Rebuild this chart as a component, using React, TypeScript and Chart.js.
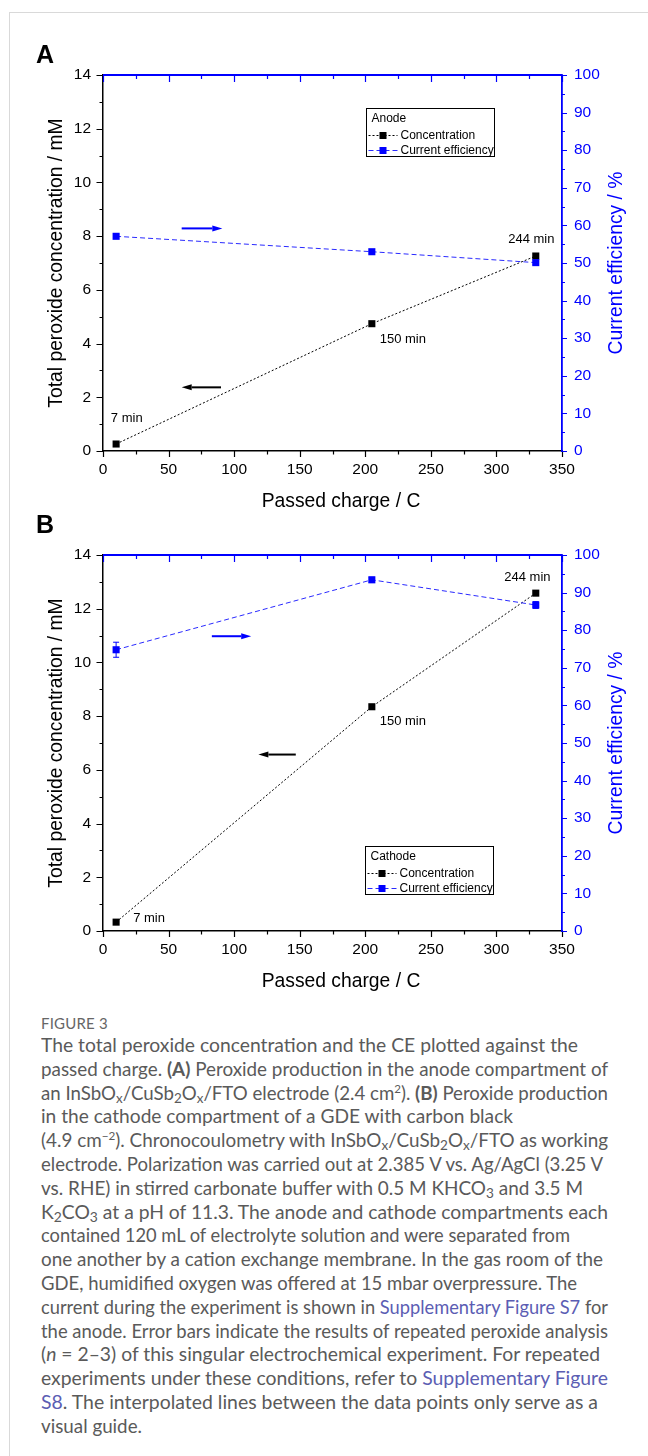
import React, { useEffect, useLayoutEffect, useRef } from "react";
import { Chart, registerables } from "chart.js";

Chart.register(...registerables);

// ---------- data ----------
const chargeC = [10, 205, 330];

const concA = [0.26, 4.74, 7.26];
const ceA = [57.1, 53.0, 50.1];
const ceErrA = [0.4, 0.4, 0.5];

const concB = [0.33, 8.35, 12.58];
const ceB = [74.8, 93.4, 86.7];
const ceErrB = [2.0, 0.7, 0.9];

// tick values
const xTicks = [0, 50, 100, 150, 200, 250, 300, 350];
const xMinor = [25, 75, 125, 175, 225, 275, 325];
const concTicks = [0, 2, 4, 6, 8, 10, 12, 14];
const concMinor = [1, 3, 5, 7, 9, 11, 13];
const ceTicks = [0, 10, 20, 30, 40, 50, 60, 70, 80, 90, 100];
const ceMinor = [5, 15, 25, 35, 45, 55, 65, 75, 85, 95];

// axis titles
const xTitle = "Passed charge / C";
const concTitle = "Total peroxide concentration / mM";
const ceTitle = "Current efficiency / %";

// time annotations (data coords: x = charge, y = concentration)
const timeLabels = ["7 min", "150 min", "244 min"];
const timeLabelXA = [6, 211, 309];
const timeLabelYA = [1.2, 4.15, 7.87];
const timeLabelXB = [23, 211, 306];
const timeLabelYB = [0.47, 7.82, 13.15];

// arrows (data coords)
const arrowCeA = [60, 91, 59.2]; // xFrom, xTo, CE
const arrowConcA = [90, 60, 2.37]; // xFrom, xTo, conc
const arrowCeB = [83, 113, 78.4];
const arrowConcB = [147, 118.5, 6.57];

// ---------- styles ----------
const BLUE = "#0000ff";
const FONT = "'Liberation Sans', Arial, Helvetica, sans-serif";
const TITLE_SIZE = 19.3;

type PanelCfg = {
  letter: string;
  letterY: number;
  legendTitle: string;
  legendX: number;
  legendTopOffset: number;
  conc: number[];
  ce: number[];
  ceErr: number[];
  tlX: number[];
  tlY: number[];
  arrowCe: number[];
  arrowConc: number[];
};

function drawArrow(ctx: CanvasRenderingContext2D, x0: number, y: number, x1: number, color: string) {
  const dir = Math.sign(x1 - x0);
  const headLen = 10;
  const headW = 3;
  ctx.save();
  ctx.strokeStyle = color;
  ctx.fillStyle = color;
  ctx.lineWidth = 2;
  ctx.setLineDash([]);
  ctx.beginPath();
  ctx.moveTo(x0, y);
  ctx.lineTo(x1 - dir * headLen, y);
  ctx.stroke();
  ctx.beginPath();
  ctx.moveTo(x1, y);
  ctx.lineTo(x1 - dir * headLen, y - headW);
  ctx.lineTo(x1 - dir * headLen, y + headW);
  ctx.closePath();
  ctx.fill();
  ctx.restore();
}

function makeDecor(cfg: PanelCfg) {
  return {
    id: "decor",
    beforeDatasetsDraw(chart: any) {
      const { ctx, scales } = chart;
      const x = scales.x;
      const y1 = scales.y1;
      ctx.save();
      ctx.strokeStyle = BLUE;
      ctx.lineWidth = 1;
      chargeC.forEach((c, i) => {
        const px = x.getPixelForValue(c);
        const top = y1.getPixelForValue(cfg.ce[i] + cfg.ceErr[i]);
        const bot = y1.getPixelForValue(cfg.ce[i] - cfg.ceErr[i]);
        ctx.beginPath();
        ctx.moveTo(px, top);
        ctx.lineTo(px, bot);
        ctx.moveTo(px - 3, top);
        ctx.lineTo(px + 3, top);
        ctx.moveTo(px - 3, bot);
        ctx.lineTo(px + 3, bot);
        ctx.stroke();
      });
      ctx.restore();
    },
    afterDraw(chart: any) {
      const { ctx, chartArea: a, scales } = chart;
      const x = scales.x;
      const y = scales.y;
      const y1 = scales.y1;
      ctx.save();
      ctx.setLineDash([]);
      ctx.lineWidth = 1.2;
      // bottom ticks (outward)
      ctx.strokeStyle = "#000";
      ctx.beginPath();
      xTicks.forEach((v) => {
        const p = Math.round(x.getPixelForValue(v)) + 0.5;
        ctx.moveTo(p, a.bottom);
        ctx.lineTo(p, a.bottom + 6);
      });
      xMinor.forEach((v) => {
        const p = Math.round(x.getPixelForValue(v)) + 0.5;
        ctx.moveTo(p, a.bottom);
        ctx.lineTo(p, a.bottom + 3.5);
      });
      // left ticks (outward)
      concTicks.forEach((v) => {
        const p = Math.round(y.getPixelForValue(v)) + 0.5;
        ctx.moveTo(a.left - 6.5, p);
        ctx.lineTo(a.left, p);
      });
      concMinor.forEach((v) => {
        const p = Math.round(y.getPixelForValue(v)) + 0.5;
        ctx.moveTo(a.left - 3.5, p);
        ctx.lineTo(a.left, p);
      });
      ctx.stroke();
      // top axis + inward ticks (blue)
      ctx.strokeStyle = BLUE;
      ctx.lineWidth = 1.8;
      ctx.beginPath();
      ctx.moveTo(a.left, a.top);
      ctx.lineTo(a.right, a.top);
      ctx.stroke();
      ctx.lineWidth = 1.2;
      ctx.beginPath();
      xTicks.forEach((v) => {
        const p = Math.round(x.getPixelForValue(v)) + 0.5;
        ctx.moveTo(p, a.top);
        ctx.lineTo(p, a.top + 7);
      });
      xMinor.forEach((v) => {
        const p = Math.round(x.getPixelForValue(v)) + 0.5;
        ctx.moveTo(p, a.top);
        ctx.lineTo(p, a.top + 4);
      });
      // right ticks (outward, blue)
      ceTicks.forEach((v) => {
        const p = Math.round(y1.getPixelForValue(v)) + 0.5;
        ctx.moveTo(a.right, p);
        ctx.lineTo(a.right + 5, p);
      });
      ceMinor.forEach((v) => {
        const p = Math.round(y1.getPixelForValue(v)) + 0.5;
        ctx.moveTo(a.right, p);
        ctx.lineTo(a.right + 3, p);
      });
      ctx.stroke();

      // bottom axis title
      ctx.fillStyle = "#000";
      ctx.font = `${TITLE_SIZE}px ${FONT}`;
      ctx.textAlign = "center";
      ctx.textBaseline = "middle";
      ctx.fillText(xTitle, (a.left + a.right) / 2 + 8.5, a.bottom + 51);

      // right axis title (reads bottom-to-top)
      ctx.save();
      ctx.translate(617, (a.top + a.bottom) / 2);
      ctx.rotate(-Math.PI / 2);
      ctx.fillStyle = BLUE;
      ctx.font = `${TITLE_SIZE}px ${FONT}`;
      ctx.textAlign = "center";
      ctx.textBaseline = "middle";
      ctx.fillText(ceTitle, 0, 0);
      ctx.restore();

      // time annotations
      ctx.fillStyle = "#000";
      ctx.font = `13px ${FONT}`;
      ctx.textAlign = "left";
      ctx.textBaseline = "middle";
      timeLabels.forEach((t, i) => {
        ctx.fillText(t, x.getPixelForValue(cfg.tlX[i]), y.getPixelForValue(cfg.tlY[i]));
      });

      // arrows
      drawArrow(ctx, x.getPixelForValue(cfg.arrowCe[0]), y1.getPixelForValue(cfg.arrowCe[2]), x.getPixelForValue(cfg.arrowCe[1]), BLUE);
      drawArrow(ctx, x.getPixelForValue(cfg.arrowConc[0]), y.getPixelForValue(cfg.arrowConc[2]), x.getPixelForValue(cfg.arrowConc[1]), "#000");

      // legend
      const bx = cfg.legendX + 0.5;
      const by = a.top + cfg.legendTopOffset + 0.5;
      const bw = 128;
      const bh = 48;
      ctx.fillStyle = "#fff";
      ctx.fillRect(bx, by, bw, bh);
      ctx.strokeStyle = "#000";
      ctx.lineWidth = 1;
      ctx.strokeRect(bx, by, bw, bh);
      ctx.fillStyle = "#000";
      ctx.font = `12px ${FONT}`;
      ctx.fillText(cfg.legendTitle, bx + 5, by + 10);
      const entries = [chart.data.datasets[0], chart.data.datasets[1]];
      entries.forEach((ds: any, i: number) => {
        const ey = Math.round(by + 26 + i * 15) + 0.5;
        ctx.strokeStyle = ds.borderColor;
        ctx.lineWidth = 1;
        ctx.setLineDash(ds.borderDash);
        ctx.beginPath();
        ctx.moveTo(bx + 2, ey);
        ctx.lineTo(bx + 31, ey);
        ctx.stroke();
        ctx.setLineDash([]);
        ctx.fillStyle = ds.pointBackgroundColor;
        ctx.fillRect(bx + 13, ey - 3.5, 7, 7);
        ctx.fillStyle = "#000";
        ctx.fillText(ds.label, bx + 34, ey);
      });

      // panel letter
      ctx.fillStyle = "#000";
      ctx.font = `bold 25px ${FONT}`;
      ctx.textBaseline = "alphabetic";
      ctx.fillText(cfg.letter, 36, cfg.letterY);
      ctx.restore();
    },
  };
}

function Panel({ cfg }: { cfg: PanelCfg }) {
  const ref = useRef<HTMLCanvasElement | null>(null);
  useEffect(() => {
    if (!ref.current) return;
    const tickFont = { family: FONT, size: 15.5 };
    const titleFont = { family: FONT, size: TITLE_SIZE };
    const chart = new Chart(ref.current, {
      type: "line",
      data: {
        datasets: [
          {
            label: "Concentration",
            data: chargeC.map((c, i) => ({ x: c, y: cfg.conc[i] })),
            yAxisID: "y",
            borderColor: "#000",
            borderWidth: 1,
            borderDash: [2, 2],
            pointStyle: "rect",
            pointRadius: 5,
            pointBackgroundColor: "#000",
            pointBorderColor: "#000",
            pointBorderWidth: 0,
            fill: false,
            order: 1,
          },
          {
            label: "Current efficiency",
            data: chargeC.map((c, i) => ({ x: c, y: cfg.ce[i] })),
            yAxisID: "y1",
            borderColor: "#2a2aff",
            borderWidth: 1,
            borderDash: [5, 3],
            pointStyle: "rect",
            pointRadius: 5,
            pointBackgroundColor: BLUE,
            pointBorderColor: BLUE,
            pointBorderWidth: 0,
            fill: false,
            order: 0,
          },
        ],
      },
      options: {
        responsive: false,
        maintainAspectRatio: false,
        animation: false,
        layout: { padding: { top: 55, left: 0, right: 0, bottom: 0 } },
        plugins: { legend: { display: false }, tooltip: { enabled: false } },
        scales: {
          x: {
            type: "linear",
            position: "bottom",
            min: 0,
            max: 350,
            afterBuildTicks: (s: any) => {
              s.ticks = xTicks.map((v) => ({ value: v }));
            },
            ticks: { font: tickFont, color: "#000", padding: 9, maxRotation: 0, autoSkip: false },
            grid: { display: false, drawTicks: false },
            border: { display: true, color: "#000", width: 1.5 },
            title: { display: false },
            afterFit: (s: any) => {
              s.height = 62;
            },
          },
          y: {
            type: "linear",
            position: "left",
            min: 0,
            max: 14,
            afterBuildTicks: (s: any) => {
              s.ticks = concTicks.map((v) => ({ value: v }));
            },
            ticks: { font: tickFont, color: "#000", padding: 12, autoSkip: false },
            grid: { display: false, drawTicks: false },
            border: { display: true, color: "#000", width: 1.5 },
            title: { display: true, text: concTitle, font: titleFont, color: "#000", padding: { top: 45, bottom: 0 } },
            afterFit: (s: any) => {
              s.width = 103;
            },
          },
          y1: {
            type: "linear",
            position: "right",
            min: 0,
            max: 100,
            afterBuildTicks: (s: any) => {
              s.ticks = ceTicks.map((v) => ({ value: v }));
            },
            ticks: { font: tickFont, color: BLUE, padding: 12, autoSkip: false },
            grid: { display: false, drawTicks: false },
            border: { display: true, color: BLUE, width: 1.8 },
            title: { display: false },
            afterFit: (s: any) => {
              s.width = 86;
            },
          },
        },
      },
      plugins: [makeDecor(cfg)],
    } as any);
    return () => chart.destroy();
  }, [cfg]);
  return <canvas ref={ref} width={648} height={493} style={{ width: 648, height: 493, display: "block" }} />;
}

const panelA: PanelCfg = {
  letter: "A",
  letterY: 43,
  legendTitle: "Anode",
  legendX: 366,
  legendTopOffset: 33,
  conc: concA,
  ce: ceA,
  ceErr: ceErrA,
  tlX: timeLabelXA,
  tlY: timeLabelYA,
  arrowCe: arrowCeA,
  arrowConc: arrowConcA,
};

const panelB: PanelCfg = {
  letter: "B",
  letterY: 33,
  legendTitle: "Cathode",
  legendX: 365,
  legendTopOffset: 291,
  conc: concB,
  ce: ceB,
  ceErr: ceErrB,
  tlX: timeLabelXB,
  tlY: timeLabelYB,
  arrowCe: arrowCeB,
  arrowConc: arrowConcB,
};

const LINK = "#5b5db3";
const L = ({ children }: { children: React.ReactNode }) => <span style={{ color: LINK }}>{children}</span>;
const sub: React.CSSProperties = { fontSize: "0.72em", lineHeight: 0, verticalAlign: "-0.25em" };
const sup: React.CSSProperties = { fontSize: "0.62em", lineHeight: 0, verticalAlign: "0.6em" };
const Sub = ({ children }: { children: React.ReactNode }) => <span style={sub}>{children}</span>;
const Sup = ({ children }: { children: React.ReactNode }) => <span style={sup}>{children}</span>;

const CAPTION_LEFT = 41;
// right edge (px) where each caption line ends in the printed figure
const captionRightEdges = [578, 608, 608, 513, 608, 603, 583, 608, 570, 603, 577, 608, 608, 600, 608, 598, 0];

export default function App() {
  const lineRefs = useRef<(HTMLSpanElement | null)[]>([]);
  useLayoutEffect(() => {
    const fit = () => {
      lineRefs.current.forEach((el, i) => {
        if (!el) return;
        const target = captionRightEdges[i];
        if (!target) return;
        el.style.transform = "none";
        const w = el.getBoundingClientRect().width;
        if (!w) return;
        let s = (target - CAPTION_LEFT) / w;
        s = Math.max(0.93, Math.min(1.07, s));
        el.style.transform = `scaleX(${s})`;
      });
    };
    fit();
    if ((document as any).fonts && (document as any).fonts.ready) {
      (document as any).fonts.ready.then(fit);
    }
  }, []);

  const captionLines: React.ReactNode[] = [
    <>The total peroxide concentration and the CE plotted against the</>,
    <>passed charge. <b>(A)</b> Peroxide production in the anode compartment of</>,
    <>an InSbO<Sub>x</Sub>/CuSb<Sub>2</Sub>O<Sub>x</Sub>/FTO electrode (2.4 cm<Sup>2</Sup>). <b>(B)</b> Peroxide production</>,
    <>in the cathode compartment of a GDE with carbon black</>,
    <>(4.9 cm<Sup>−2</Sup>). Chronocoulometry with InSbO<Sub>x</Sub>/CuSb<Sub>2</Sub>O<Sub>x</Sub>/FTO as working</>,
    <>electrode. Polarization was carried out at 2.385 V vs. Ag/AgCl (3.25 V</>,
    <>vs. RHE) in stirred carbonate buffer with 0.5 M KHCO<Sub>3</Sub> and 3.5 M</>,
    <>K<Sub>2</Sub>CO<Sub>3</Sub> at a pH of 11.3. The anode and cathode compartments each</>,
    <>contained 120 mL of electrolyte solution and were separated from</>,
    <>one another by a cation exchange membrane. In the gas room of the</>,
    <>GDE, humidified oxygen was offered at 15 mbar overpressure. The</>,
    <>current during the experiment is shown in <L>Supplementary Figure S7</L> for</>,
    <>the anode. Error bars indicate the results of repeated peroxide analysis</>,
    <>(<i>n</i> = 2–3) of this singular electrochemical experiment. For repeated</>,
    <>experiments under these conditions, refer to <L>Supplementary Figure</L></>,
    <><L>S8</L>. The interpolated lines between the data points only serve as a</>,
    <>visual guide.</>,
  ];
  return (
    <div style={{ position: "absolute", left: 0, top: 0, width: 648, height: 1456, background: "#fff", overflow: "hidden" }}>
      <div
        style={{
          position: "absolute",
          left: 9,
          top: 12,
          width: 700,
          height: 1500,
          borderTop: "1px solid #d9d9d9",
          borderLeft: "1px solid #d9d9d9",
        }}
      />
      <div style={{ position: "absolute", left: 0, top: 20 }}>
        <Panel cfg={panelA} />
      </div>
      <div style={{ position: "absolute", left: 0, top: 500 }}>
        <Panel cfg={panelB} />
      </div>
      <div
        style={{
          position: "absolute",
          left: CAPTION_LEFT,
          top: 1013,
          fontFamily: "Lato, 'Open Sans', sans-serif",
          fontSize: 15,
          lineHeight: "20px",
          color: "#666",
          letterSpacing: "0.2px",
        }}
      >
        FIGURE 3
      </div>
      <div
        style={{
          position: "absolute",
          left: CAPTION_LEFT,
          top: 1033,
          fontFamily: "Lato, 'Open Sans', sans-serif",
          fontSize: 18.8,
          lineHeight: "23.8px",
          color: "#5a5a5a",
          whiteSpace: "nowrap",
        }}
      >
        {captionLines.map((ln, i) => (
          <div key={i} style={{ height: 23.8 }}>
            <span
              ref={(el) => {
                lineRefs.current[i] = el;
              }}
              style={{ display: "inline-block", transformOrigin: "0 0" }}
            >
              {ln}
            </span>
          </div>
        ))}
      </div>
    </div>
  );
}
